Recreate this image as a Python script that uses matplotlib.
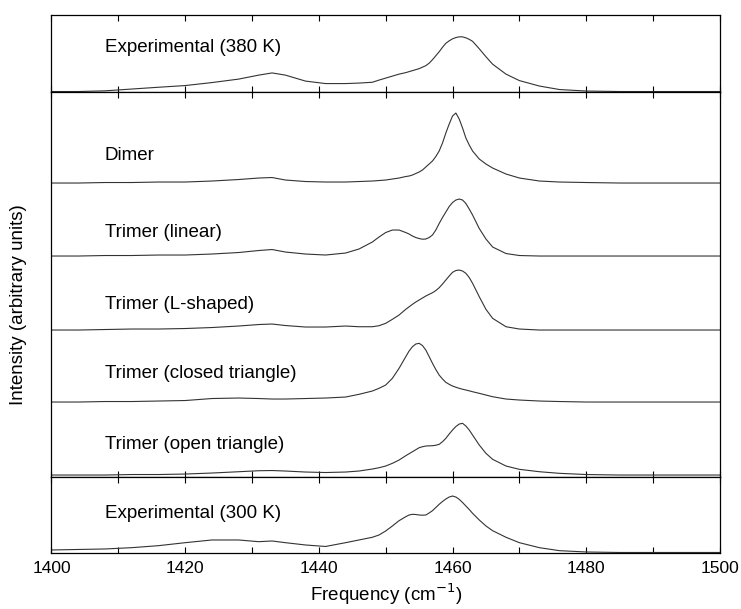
import matplotlib
matplotlib.use("Agg")
import matplotlib.pyplot as plt
from matplotlib.ticker import MultipleLocator

plt.rcParams['font.family'] = ['Liberation Sans', 'DejaVu Sans']

# Frequency grid (cm^-1), shared by all traces
freq = [1400, 1404, 1408, 1412, 1416, 1420, 1424, 1428, 1431, 1433, 1435, 1438, 1441, 1444, 1446, 1448, 1449, 1450, 1451, 1452,
        1453, 1453.5, 1454, 1454.5, 1455, 1455.5, 1456, 1456.5, 1457, 1457.5, 1458, 1458.5, 1459, 1459.5, 1460, 1460.5,
        1461, 1461.5, 1462, 1462.5, 1463,
        1464, 1465, 1466, 1468, 1470, 1473, 1476, 1480, 1485, 1490, 1495, 1500]

# Intensities (arbitrary units)
exp_380 = [0, 0, 0.7, 2.5, 4.3, 6, 9, 12.5, 16.5, 18.7, 16.5, 10.5, 8, 8, 8.5, 9.3, 11.5, 13.5, 15.5, 17.5,
           19, 20, 21, 22, 23, 24.5, 26, 28.5, 32, 36, 40, 44.5, 48.5, 51, 53, 54.3, 55, 55, 54, 52.5, 50.5,
           43, 35, 27.5, 17.5, 11, 5.5, 2, 0.5, 0, 0, 0, 0]
dimer = [0, 0, 0.5, 0.5, 1, 1, 2, 3.5, 5, 5.5, 3, 1.5, 1, 1, 1.5, 2, 2.5, 3, 4, 5,
         6.5, 7, 8, 9.5, 11, 13, 16, 19, 22, 26.5, 32, 40, 50, 59, 67, 70, 64, 55, 45, 38, 32,
         24, 19, 15, 9, 5, 2, 1, 0.5, 0, 0, 0, 0]
trimer_linear = [0, 0, 0.5, 0.5, 1, 1, 2, 3.5, 5.5, 6.5, 4, 2, 1, 3, 7, 14, 19, 23.5, 26, 26,
                 23.5, 22, 20, 18.5, 17.5, 16.8, 17, 18.5, 21, 26, 32.5, 38.5, 44, 49.5, 53.5, 56, 57, 56, 52.5, 47, 41,
                 27.5, 17, 9, 2.5, 0.5, 0, 0, 0, 0, 0, 0, 0]
trimer_lshaped = [0, 0, 0.5, 1, 1, 1.5, 2.5, 4, 5.5, 6, 4.5, 3, 3, 4, 3.3, 3.3, 4.3, 6.7, 10.7, 15,
                  20.7, 23.2, 25.7, 28, 30, 32, 34, 35.7, 37.3, 39.5, 42.3, 46, 50, 54, 57.7, 59.5, 60, 59, 56.7, 52.5, 46.7,
                  33.3, 20.7, 11.7, 3.3, 1, 0, 0, 0, 0, 0, 0, 0]
trimer_closed = [0, 0, 0.5, 0.5, 1, 1.5, 3.5, 4, 3.5, 3, 3, 3.5, 4, 5, 7.7, 11, 13.7, 17, 23.7, 33.7,
                 45.3, 51, 55.3, 58, 58.7, 56.5, 52, 45.5, 38.7, 32.5, 27, 23, 19.7, 17.7, 16, 14.8, 13.7, 12.8, 12, 11.2, 10.3,
                 8.7, 7, 5.3, 3, 2, 1, 0.5, 0, 0, 0, 0, 0]
trimer_open = [0, 0, 0, 0.5, 0.5, 1, 2, 3.3, 4.3, 4.5, 4, 3, 2.5, 3, 4, 6, 7.3, 9, 11.7, 15,
               19.3, 21.3, 23.3, 25.3, 27.3, 28.3, 29, 29.2, 29.3, 29.8, 30.7, 33.3, 36.7, 41, 45, 48.5, 51, 51.7, 49, 45, 40,
               30, 21.7, 15.7, 9, 5.7, 3.3, 1.7, 0.5, 0, 0, 0, 0]
exp_300 = [3, 3.5, 4, 5.3, 7.3, 10.3, 13, 13, 11.3, 12, 10.3, 8, 6.5, 10.3, 13, 15.7, 18, 22, 27, 32.3,
           36.3, 38, 38.7, 38.5, 38, 37.8, 38, 40, 42.3, 45.5, 48.7, 51.5, 54, 56, 57, 56, 53.7, 50.5, 47, 43.5, 39.7,
           33, 27, 22.3, 15.7, 10.3, 5.3, 2.3, 1, 0.5, 0.5, 0.5, 0.5]

middle_labels = ["Dimer", "Trimer (linear)", "Trimer (L-shaped)", "Trimer (closed triangle)", "Trimer (open triangle)"]
middle_series = [dimer, trimer_linear, trimer_lshaped, trimer_closed, trimer_open]

line_kw = dict(color="#333333", lw=0.8)
text_kw = dict(fontsize=13.5, va="center", ha="left")

fig = plt.figure(figsize=(7.41, 6.09), dpi=100)
left, width = 0.0695, 0.902
ax_top = fig.add_axes([left, 0.8489, width, 0.1265])
ax_mid = fig.add_axes([left, 0.2167, width, 0.6322])
ax_bot = fig.add_axes([left, 0.0920, width, 0.1247])

# Top panel
ax_top.plot(freq, exp_380, **line_kw)
ax_top.set_ylim(-0.5, 77)
ax_top.text(1408, 44, "Experimental (380 K)", **text_kw)

# Middle panel: calculated spectra stacked with offsets
offsets = [294, 221, 147, 75, 2]
label_y = [322, 245, 173, 104, 33]
for ys, off, lab, ly in zip(middle_series, offsets, middle_labels, label_y):
    ax_mid.plot(freq, [v + off for v in ys], **line_kw)
    ax_mid.text(1408, ly, lab, **text_kw)
ax_mid.set_ylim(0, 385)

# Bottom panel
ax_bot.plot(freq, exp_300, **line_kw)
ax_bot.set_ylim(0, 76)
ax_bot.text(1408, 40, "Experimental (300 K)", **text_kw)

for ax in (ax_top, ax_mid, ax_bot):
    ax.set_xlim(1400, 1500)
    ax.set_yticks([])
    ax.xaxis.set_major_locator(MultipleLocator(20))
    ax.xaxis.set_minor_locator(MultipleLocator(10))
    ax.tick_params(axis="x", which="both", direction="in", top=True, bottom=True, length=4, width=0.8)
    for sp in ax.spines.values():
        sp.set_linewidth(0.9)
    if ax is not ax_bot:
        ax.tick_params(axis="x", labelbottom=False)

ax_bot.tick_params(axis="x", labelsize=12.5, pad=6)
ax_bot.set_xlabel("Frequency (cm$^{-1}$)", fontsize=13.5, labelpad=4)
fig.text(0.025, 0.5, "Intensity (arbitrary units)", rotation=90, va="center", ha="center", fontsize=13.5)

fig.savefig("out.png", dpi=100)
